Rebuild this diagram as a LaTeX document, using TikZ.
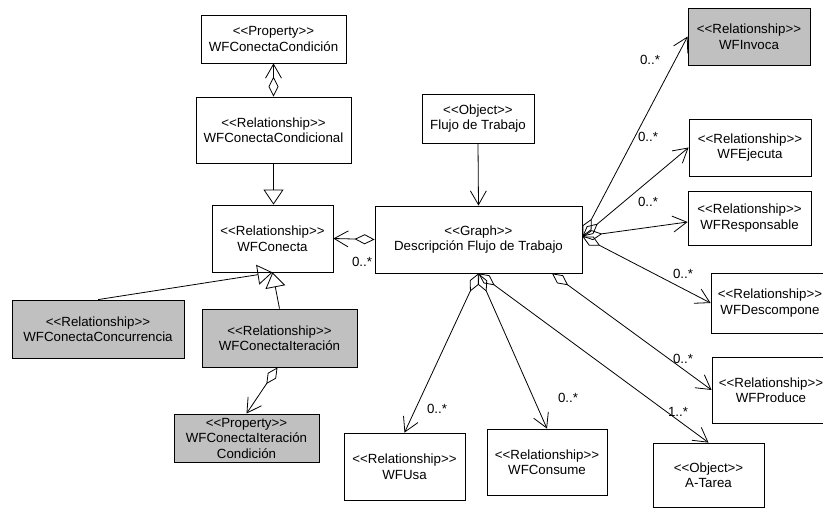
\documentclass[tikz,border=0pt]{standalone}
\usepackage{fontspec}
\setmainfont{Liberation Sans}
\usetikzlibrary{arrows.meta}
\definecolor{boxgray}{RGB}{192,192,192}
% stereotype brackets, kept apart so no ligature turns them into guillemets
\newcommand\stereo[1]{<{}<#1>{}>}
\begin{document}
\begin{tikzpicture}[x=1pt,y=-1pt,
  every node/.style={font=\fontsize{13.3}{15.5}\selectfont},
  box/.style={draw, line width=0.8pt, align=center, inner sep=0pt, fill=white},
  shaded/.style={box, fill=boxgray},
  conn/.style={line width=0.8pt},
  agg/.style={conn, {Diamond[open,length=20pt,width=10pt]}-{Straight Barb[length=14pt,width=16pt]}},
  nav/.style={conn, -{Straight Barb[length=14pt,width=16pt]}},
  gen/.style={conn, -{Triangle[open,length=15pt,width=20pt]}},
  mult/.style={inner sep=0pt}]
\clip (0,0) rectangle (823,512);

% classes
\node[box, minimum width=145pt, minimum height=48pt] (condProp) at (273.5,39) {\stereo{Property}\\WFConectaCondición};
\node[box, minimum width=155pt, minimum height=66pt] (condRel) at (273.5,130) {\stereo{Relationship}\\WFConectaCondicional};
\node[box, minimum width=121pt, minimum height=67pt] (conecta) at (272.5,238.5) {\stereo{Relationship}\\WFConecta};
\node[shaded, minimum width=172pt, minimum height=58pt] (concurr) at (98,329) {\stereo{Relationship}\\WFConectaConcurrencia};
\node[shaded, minimum width=155pt, minimum height=58pt] (iter) at (279.5,338) {\stereo{Relationship}\\WFConectaIteración};
\node[shaded, minimum width=145pt, minimum height=48pt] (iterProp) at (246.5,438) {\stereo{Property}\\WFConectaIteración\\Condición};
\node[box, minimum width=112pt, minimum height=49pt] (flujo) at (478,118.5) {\stereo{Object}\\Flujo de Trabajo};
\node[box, minimum width=207pt, minimum height=67pt] (graph) at (478.5,239.5) {\stereo{Graph}\\Descripción Flujo de Trabajo};
\node[shaded, minimum width=122pt, minimum height=57pt] (invoca) at (749,36.5) {\stereo{Relationship}\\WFInvoca};
\node[box, minimum width=122pt, minimum height=57pt] (ejecuta) at (750,147.5) {\stereo{Relationship}\\WFEjecuta};
\node[box, minimum width=123pt, minimum height=54pt] (respons) at (749.5,218) {\stereo{Relationship}\\WFResponsable};
\node[box, minimum width=118pt, minimum height=60pt] (descomp) at (770,303) {\stereo{Relationship}\\WFDescompone};
\node[box, minimum width=118pt, minimum height=66pt] (produce) at (771,390) {\stereo{Relationship}\\WFProduce};
\node[box, minimum width=111pt, minimum height=64pt] (tarea) at (708.5,475) {\stereo{Object}\\A-Tarea};
\node[box, minimum width=121pt, minimum height=67pt] (usa) at (404.5,466.5) {\stereo{Relationship}\\WFUsa};
\node[box, minimum width=120pt, minimum height=66pt] (consume) at (547,462) {\stereo{Relationship}\\WFConsume};

% generalizations
\draw[gen] (condRel.south) -- (condRel.south |- conecta.north);
\draw[gen] (concurr.north) -- (conecta.south);
\draw[gen] (iter.north) -- (conecta.south);

% aggregations and navigable associations
\draw[agg] (condRel.north) -- (condProp.south);
\draw[agg] ([xshift=-2pt]iter.south) -- (iterProp.north);
\draw[agg] (graph.west) -- (conecta.east);
\draw[nav] (flujo.south) -- (graph.north);

\coordinate (gR) at ([yshift=3pt]graph.east);
\coordinate (gB1) at (graph.south);
\coordinate (gB2) at ([xshift=73.5pt]graph.south);

\draw[agg] (gR) -- (invoca.west);
\draw[agg] (gR) -- (ejecuta.west);
\draw[agg] (gR) -- ([yshift=-4pt]respons.west);
\draw[agg] (gR) -- (descomp.west);
\draw[agg] (gB1) -- (usa.north);
\draw[agg] (gB1) -- (consume.north);
\draw[agg] (gB1) -- (tarea.north);
\draw[agg] (gB2) -- (produce.west);

% multiplicities
\node[mult] (mConecta) at (362,262) {0..*};
\node[mult] (mInvoca) at (650,60) {0..*};
\node[mult] (mEjecuta) at (648,137) {0..*};
\node[mult] (mRespons) at (648,202) {0..*};
\node[mult] (mDescomp) at (683,274) {0..*};
\node[mult] (mProduce) at (683,359) {0..*};
\node[mult] (mTarea) at (678,412) {1..*};
\node[mult] (mUsa) at (437,409) {0..*};
\node[mult] (mConsume) at (568,398) {0..*};
\end{tikzpicture}
\end{document}
